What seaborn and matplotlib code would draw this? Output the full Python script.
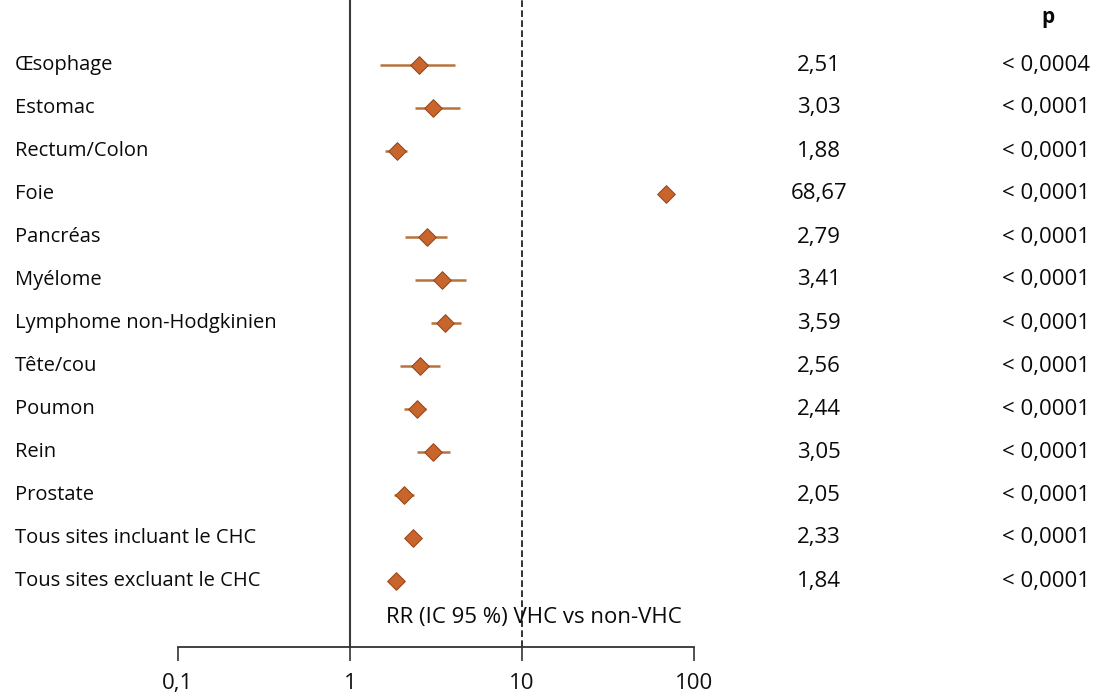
import matplotlib
matplotlib.use("Agg")
import matplotlib.pyplot as plt
import matplotlib.transforms as mtrans
import seaborn as sns
import pandas as pd

sites = ["Œsophage", "Estomac", "Rectum/Colon", "Foie", "Pancréas", "Myélome",
         "Lymphome non-Hodgkinien", "Tête/cou", "Poumon", "Rein", "Prostate",
         "Tous sites incluant le CHC", "Tous sites excluant le CHC"]
rr = [2.51, 3.03, 1.88, 68.67, 2.79, 3.41, 3.59, 2.56, 2.44, 3.05, 2.05, 2.33, 1.84]
ci_low = [1.50, 2.40, 1.60, 64.0, 2.10, 2.40, 2.95, 1.95, 2.05, 2.45, 1.80, 2.20, 1.72]
ci_high = [4.10, 4.35, 2.15, 74.0, 3.65, 4.70, 4.40, 3.35, 2.75, 3.80, 2.35, 2.48, 1.98]
rr_labels = ["2,51", "3,03", "1,88", "68,67", "2,79", "3,41", "3,59", "2,56",
             "2,44", "3,05", "2,05", "2,33", "1,84"]
p_labels = ["< 0,0004"] + ["< 0,0001"] * 12
x_ticks = [0.1, 1, 10, 100]
x_ticklabels = ["0,1", "1", "10", "100"]

df = pd.DataFrame({"site": sites, "rr": rr, "lo": ci_low, "hi": ci_high,
                   "row": range(len(sites))})

sns.set_theme(style="white")
plt.rcParams["font.family"] = ["Open Sans", "DejaVu Sans"]

W, H = 1102, 697
fig = plt.figure(figsize=(W / 100, H / 100), dpi=100)
left, right = 178, 694
top, bottom = 0, 647
ax = fig.add_axes([left / W, 1 - bottom / H, (right - left) / W, (bottom - top) / H])

orange = "#c8652c"
ax.hlines(df["row"], df["lo"], df["hi"], color="#b8733c", lw=1.8, zorder=2)
sns.scatterplot(data=df, x="rr", y="row", marker="D", s=80, color=orange,
                edgecolor="#9a4a1e", linewidth=0.8, ax=ax, zorder=3, legend=False)

ax.set_xscale("log")
ax.set_xlim(0.1, 100)
row0, gap = 65, 43
ax.set_ylim(12 + (bottom - 581) / gap, -(row0 - top) / gap)

ax.axvline(1, color="#3a3a3a", lw=1.5, zorder=1, clip_on=False)
ax.axvline(10, color="#111111", lw=1.2, ls=(0, (4, 2)), zorder=1, clip_on=False)

for s in ["top", "right", "left"]:
    ax.spines[s].set_visible(False)
ax.spines["bottom"].set_color("#333333")
ax.spines["bottom"].set_linewidth(1.3)
ax.set_xticks(x_ticks)
ax.set_xticklabels(x_ticklabels)
ax.xaxis.set_minor_locator(matplotlib.ticker.NullLocator())
ax.tick_params(axis="x", bottom=True, direction="out", length=10, width=1.2,
               color="#333333", labelsize=16, pad=9, labelcolor="#111111")
ax.set_yticks([])
ax.set_xlabel("")
ax.set_ylabel("")

tr = mtrans.blended_transform_factory(fig.transFigure, ax.transData)
fs_lab = 14.5
fs_num = 16
for i, s in enumerate(sites):
    ax.text(15 / W, i, s, transform=tr, ha="left", va="center", fontsize=fs_lab,
            color="#0a0a0a", clip_on=False)
    ax.text(819 / W, i, rr_labels[i], transform=tr, ha="center", va="center",
            fontsize=fs_num, color="#0a0a0a", clip_on=False)
    ax.text(1090 / W, i, p_labels[i], transform=tr, ha="right", va="center",
            fontsize=fs_num, color="#0a0a0a", clip_on=False)

fig.text(1048 / W, 1 - 18 / H, "p", ha="center", va="center", fontsize=15,
         fontweight="bold", color="#0a0a0a")
fig.text(386 / W, 1 - 617 / H, "RR (IC 95 %) VHC vs non-VHC", ha="left",
         va="center", fontsize=16, color="#0a0a0a")

fig.savefig("out.png", dpi=100, facecolor="white")
